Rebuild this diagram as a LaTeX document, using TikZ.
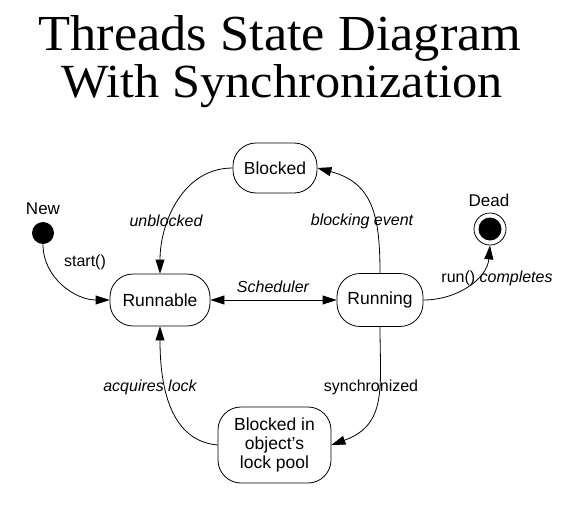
\documentclass[tikz,border=0pt]{standalone}
\usepackage{graphicx}
\usepackage{fontspec}
\setsansfont{Liberation Sans}
\newfontfamily\titlefont{Liberation Serif}
\usetikzlibrary{arrows.meta}
\begin{document}
\begin{tikzpicture}[x=1pt,y=1pt,
  state/.style={draw, line width=0.8pt, rounded corners=23pt, font=\sffamily\fontsize{17.5}{18.7}\selectfont, align=center, inner sep=0pt},
  lbl/.style={font=\sffamily\fontsize{16}{18}\selectfont, inner sep=0pt},
  ilbl/.style={font=\sffamily\itshape\fontsize{16}{18}\selectfont, inner sep=0pt},
  nlbl/.style={font=\sffamily\fontsize{17}{18}\selectfont, inner sep=0pt},
  tip/.tip={Triangle[length=14pt,width=9pt]},
  tr/.style={line width=0.8pt, -tip},
]
\useasboundingbox (0,0) rectangle (575,-514);

% title
\node[anchor=base, inner sep=0pt] (t1) at (280,-50) {\resizebox{483pt}{35pt}{\titlefont\fontsize{48}{48}\selectfont Threads State Diagram}};
\node[anchor=base, inner sep=0pt] (t2) at (282,-97) {\resizebox{441pt}{33pt}{\titlefont\fontsize{48}{48}\selectfont With Synchronization}};

% states
\node[state, minimum width=84pt, minimum height=50pt] (blocked) at (275,-168) {Blocked};
\node[state, minimum width=100pt, minimum height=52pt] (runnable) at (160,-300) {Runnable};
\node[state, minimum width=86pt, minimum height=53pt] (running) at (380,-300) {Running};
\node[state, minimum width=113pt, minimum height=76pt] (pool) at (274.5,-445) {Blocked in\\object’s\\lock pool};

% pseudo states
\node[circle, fill, minimum size=22pt, inner sep=0pt] (new) at (43,-233) {};
\node[nlbl] (newl) at (43,-209) {New};
\node[circle, draw, line width=0.8pt, minimum size=32pt, inner sep=0pt] (dead) at (490,-229) {};
\node[circle, fill, minimum size=23pt, inner sep=0pt] (deadin) at (490,-229) {};
\node[nlbl] (deadl) at (489,-200) {Dead};

% transitions
\draw[tr] (new.south) to[out=-90,in=180] (runnable.west);
\draw[tr] (blocked.west) to[out=180,in=90] (runnable.north);
\draw[tr] (running.north) to[out=90,in=-15,looseness=1.2] (blocked.east);
\draw[line width=0.8pt, tip-tip] (runnable.east) -- (running.west);
\draw[tr] (running.east) to[out=0,in=-95] (dead.south);
\draw[tr] (running.south) to[out=-90,in=20,looseness=1.2] (pool.east);
\draw[tr] (pool.west) to[out=175,in=-90] (runnable.south);

% labels
\node[lbl] (lstart) at (85,-262) {start()};
\node[ilbl] (lunbl) at (166,-221) {unblocked};
\node[ilbl] (lsched) at (273,-287) {Scheduler};
\node[ilbl] (lbev) at (362,-221) {blocking event};
\node[lbl] (lrun) at (497,-278) {run() \textit{completes}};
\node[ilbl] (lacq) at (150,-387) {acquires lock};
\node[lbl] (lsync) at (371,-387) {synchronized};
\end{tikzpicture}
\end{document}
